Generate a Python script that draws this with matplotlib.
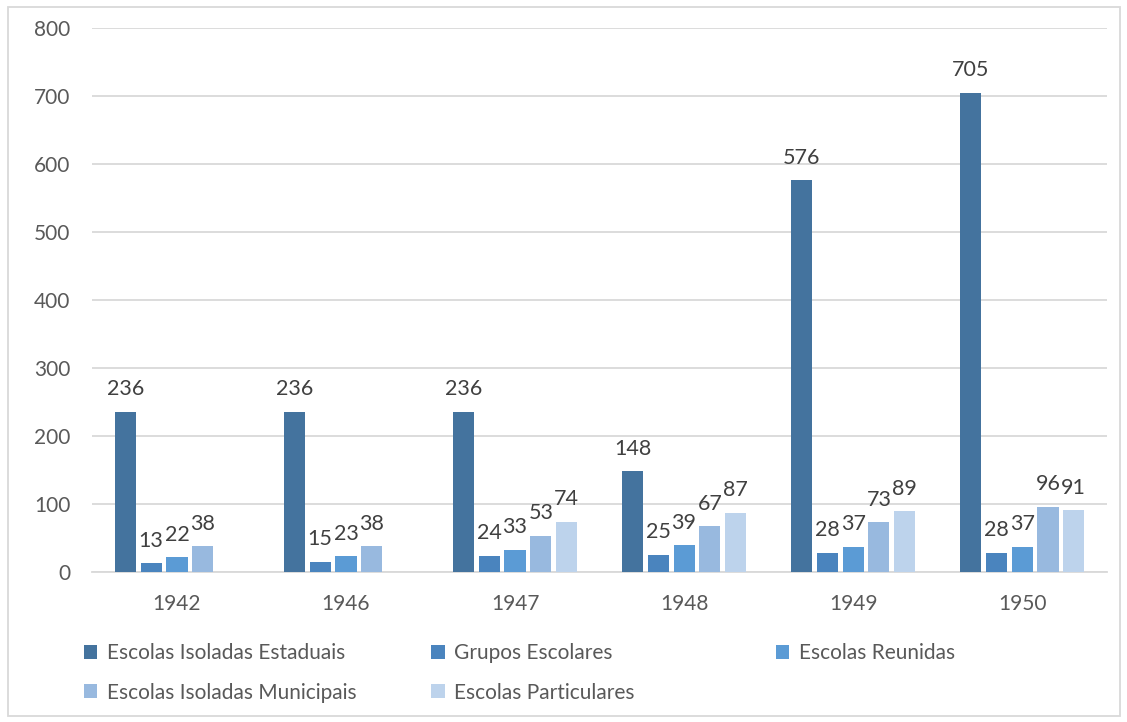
import numpy as np
import matplotlib.pyplot as plt
from matplotlib.patches import Patch, Rectangle

plt.rcParams['font.family'] = ['Lato', 'DejaVu Sans']

anos = ['1942', '1946', '1947', '1948', '1949', '1950']
series = ['Escolas Isoladas Estaduais', 'Grupos Escolares', 'Escolas Reunidas',
          'Escolas Isoladas Municipais', 'Escolas Particulares']
isoladas_estaduais = [236, 236, 236, 148, 576, 705]
grupos_escolares = [13, 15, 24, 25, 28, 28]
escolas_reunidas = [22, 23, 33, 39, 37, 37]
isoladas_municipais = [38, 38, 53, 67, 73, 96]
particulares = [np.nan, np.nan, 74, 87, 89, 91]
cores = ['#44739e', '#4a84be', '#5b9bd5', '#98b9df', '#bdd3ec']

valores = [isoladas_estaduais, grupos_escolares, escolas_reunidas,
           isoladas_municipais, particulares]

fig = plt.figure(figsize=(11.27, 7.22), dpi=100)
ax = fig.add_axes([0.082, 0.2078, 0.9, 0.7534])

x = np.arange(len(anos))
step = 0.1525
width = 0.125
for i, (nome, vals, cor) in enumerate(zip(series, valores, cores)):
    pos = x + (i - 2) * step
    ax.bar(pos, vals, width, color=cor, label=nome, zorder=3)
    for xp, v in zip(pos, vals):
        if np.isnan(v):
            continue
        ax.annotate(f'{v:.0f}', (xp, v), xytext=(0, 9), textcoords='offset points',
                    ha='center', va='bottom', fontsize=15.5, color='#404040')

ax.set_xlim(-0.5, len(anos) - 0.5)
ax.set_ylim(0, 800)
ax.set_yticks(range(0, 801, 100))
ax.set_xticks(x)
ax.set_xticklabels(anos)
ax.tick_params(length=0, labelsize=15, colors='#595959')
ax.tick_params(axis='x', pad=16)
ax.tick_params(axis='y', pad=16)
ax.grid(axis='y', color='#d9d9d9', linewidth=1.3, zorder=0)
for s in ['top', 'right', 'left']:
    ax.spines[s].set_visible(False)
ax.spines['bottom'].set_color('#d9d9d9')
ax.spines['bottom'].set_linewidth(1.3)

handles = [Patch(facecolor=c, label=n) for c, n in zip(cores, series)]
colunas = [[0, 3], [1, 4], [2]]
col_x = [0.067, 0.375, 0.681]
for cx, idx in zip(col_x, colunas):
    fig.legend(handles=[handles[k] for k in idx], loc='upper left',
               bbox_to_anchor=(cx, 0.121), frameon=False, fontsize=15,
               handlelength=0.65, handleheight=0.65, handletextpad=0.45,
               labelspacing=0.95, labelcolor='#595959', borderaxespad=0)

fig.patches.append(Rectangle((8 / 1127, 1 - 716 / 722), 1112 / 1127, 709 / 722,
                             transform=fig.transFigure, fill=False,
                             edgecolor='#d9d9d9', linewidth=1.3))

fig.savefig('out.png', dpi=100)
